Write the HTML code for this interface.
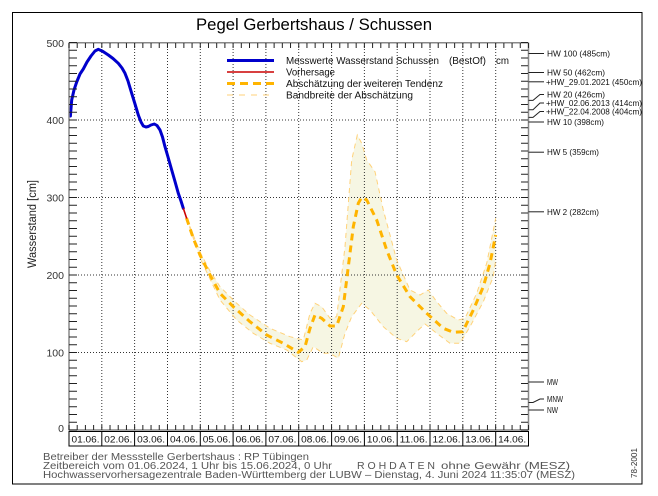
<!DOCTYPE html>
<html><head><meta charset="utf-8"><style>
html,body{margin:0;padding:0;background:#fff;}
svg{display:block;font-family:"Liberation Sans",sans-serif;}
</style></head><body>
<svg width="658" height="496" viewBox="0 0 658 496" xmlns="http://www.w3.org/2000/svg">
<rect x="0" y="0" width="658" height="496" fill="#fff"/>
<!-- outer frame -->
<rect x="12.5" y="12.5" width="629.5" height="471.5" fill="none" stroke="#000" stroke-width="1"/>
<!-- title -->
<text x="196" y="30" font-size="17" fill="#000" textLength="236" lengthAdjust="spacingAndGlyphs">Pegel Gerbertshaus / Schussen</text>

<!-- band fill -->
<polygon fill="#f6f6e3" stroke="none" points="186.5,218 200,252 210,271 220,286.7 236.7,303.3 250,315 270,328.3 290,336.7 303.3,340 310,313.3 315,303.3 321.7,306.7 330,318.3 336.7,316.7 345,246.7 351.7,160 357.3,135 361.7,143.3 366.7,160 375,171.7 383.3,210 396.7,260 410,290 420,295 428.3,290 436.7,301.7 446.7,313.3 458.3,320 465,318.3 476.7,293.3 486.7,263.3 495.7,218.3 495.7,260 493.3,276.7 483.3,301.7 470,326.7 460,343.3 450,343.3 436.7,333.3 425,324 418.3,330 406.7,341.7 396.7,338.3 383.3,326.7 370,310 361.7,303.3 351.7,316.7 345,333.3 338.3,358.3 330,353.3 323.3,353.3 313.3,346.7 306.7,360 301.7,361.7 286.7,350 270,343.3 253.3,333.3 236.7,320 220,300 210,279 200,258 186.5,218"/>

<!-- gridlines -->
<g stroke="#333" stroke-width="1" stroke-dasharray="1 2" fill="none">
<line x1="69" y1="352.5" x2="528" y2="352.5"/>
<line x1="69" y1="275" x2="528" y2="275"/>
<line x1="69" y1="197.5" x2="528" y2="197.5"/>
<line x1="69" y1="120" x2="528" y2="120"/>
<line x1="101.8" y1="43" x2="101.8" y2="430"/>
<line x1="134.6" y1="43" x2="134.6" y2="430"/>
<line x1="167.5" y1="43" x2="167.5" y2="430"/>
<line x1="200.3" y1="43" x2="200.3" y2="430"/>
<line x1="233.1" y1="43" x2="233.1" y2="430"/>
<line x1="265.9" y1="43" x2="265.9" y2="430"/>
<line x1="298.7" y1="43" x2="298.7" y2="430"/>
<line x1="331.6" y1="43" x2="331.6" y2="430"/>
<line x1="364.4" y1="43" x2="364.4" y2="430"/>
<line x1="397.2" y1="43" x2="397.2" y2="430"/>
<line x1="430" y1="43" x2="430" y2="430"/>
<line x1="462.8" y1="43" x2="462.8" y2="430"/>
<line x1="495.7" y1="43" x2="495.7" y2="430"/>
</g>

<!-- band borders -->
<g fill="none" stroke="#ffd27a" stroke-width="1" stroke-dasharray="5 4">
<polyline points="186.5,218 200,252 210,271 220,286.7 236.7,303.3 250,315 270,328.3 290,336.7 303.3,340 310,313.3 315,303.3 321.7,306.7 330,318.3 336.7,316.7 345,246.7 351.7,160 357.3,135 361.7,143.3 366.7,160 375,171.7 383.3,210 396.7,260 410,290 420,295 428.3,290 436.7,301.7 446.7,313.3 458.3,320 465,318.3 476.7,293.3 486.7,263.3 495.7,218.3"/>
<polyline points="186.5,218 200,258 210,279 220,300 236.7,320 253.3,333.3 270,343.3 286.7,350 301.7,361.7 306.7,360 313.3,346.7 323.3,353.3 330,353.3 338.3,358.3 345,333.3 351.7,316.7 361.7,303.3 370,310 383.3,326.7 396.7,338.3 406.7,341.7 418.3,330 425,324 436.7,333.3 450,343.3 460,343.3 470,326.7 483.3,301.7 493.3,276.7 495.7,260"/>
</g>

<!-- main estimate dashed -->
<polyline fill="none" stroke="#ffb400" stroke-width="3" stroke-dasharray="7 5" stroke-linejoin="round" points="186.5,218 193.3,238.3 200,255 210,275 220,293.3 233.3,306.7 250,321.7 266.7,335 283.3,343.3 298.3,352.3 305,346.7 310,328.3 315,315 321.7,318.3 330,326 336.7,326 343.3,306.7 348.3,266.7 353.3,226.7 358.3,203.3 361.7,197.3 366.7,200 376.7,220 386.7,250 396.7,275 410,296.7 426.7,313.3 443.3,328.3 453.3,332.3 462.7,331.7 473.3,310 483.3,286.7 490,263.3 495.7,235"/>

<!-- measured -->
<polyline fill="none" stroke="#0000cc" stroke-width="3" stroke-linejoin="round" stroke-linecap="round" points="70.4,116 71.7,100 74,90 76.7,82 80,74 83.3,69 87,62 91,56 95,51 98.3,49.3 103,51.5 108.3,55 113,58.5 118.3,63.3 122,68 125,73.3 128,81 131.7,93.3 135,104 138.3,115 141,122 143.3,126 146,127 148.3,126.5 151,125 154.3,124 157,125.5 160,130 162.5,137 165,146.7 168,157 171.7,170 175,181.5 178.3,193.3 181,201 183.3,208.3"/>
<line x1="183.3" y1="208.3" x2="186.7" y2="218.5" stroke="#cc0000" stroke-width="1.6"/>

<!-- axes -->
<g stroke="#888" stroke-width="1.5" fill="none">
<line x1="69" y1="42.5" x2="69" y2="430.5"/>
<line x1="528.5" y1="42.5" x2="528.5" y2="430.5"/>
<line x1="69" y1="42.8" x2="528.5" y2="42.8"/>
<line x1="69" y1="430" x2="528.5" y2="430"/>
</g>
<!-- ticks -->
<g fill="none" stroke="#222">
<line x1="73" y1="430.5" x2="73" y2="42" stroke-width="8" stroke-dasharray="1 6.75"/>
<line x1="524.5" y1="430.5" x2="524.5" y2="42" stroke-width="7" stroke-dasharray="1 6.75"/>
<line x1="68.5" y1="45.5" x2="529" y2="45.5" stroke-width="5" stroke-dasharray="1 7.205"/>
<line x1="68.5" y1="427.5" x2="529" y2="427.5" stroke-width="5" stroke-dasharray="1 7.205"/>
</g>

<!-- y tick labels -->
<g font-size="10.5" fill="#333" text-anchor="end">
<text x="64" y="47">500</text>
<text x="64" y="124">400</text>
<text x="64" y="201.5">300</text>
<text x="64" y="279">200</text>
<text x="64" y="356.5">100</text>
<text x="64" y="432">0</text>
</g>
<text transform="translate(36,224) rotate(-90)" font-size="11.5" fill="#222" text-anchor="middle" textLength="88" lengthAdjust="spacingAndGlyphs">Wasserstand [cm]</text>

<!-- day box -->
<g fill="none" stroke="#000" stroke-width="1">
<rect x="69" y="431.5" width="459.5" height="14.5"/>
<line x1="101.8" y1="431.5" x2="101.8" y2="446"/>
<line x1="134.6" y1="431.5" x2="134.6" y2="446"/>
<line x1="167.5" y1="431.5" x2="167.5" y2="446"/>
<line x1="200.3" y1="431.5" x2="200.3" y2="446"/>
<line x1="233.1" y1="431.5" x2="233.1" y2="446"/>
<line x1="265.9" y1="431.5" x2="265.9" y2="446"/>
<line x1="298.7" y1="431.5" x2="298.7" y2="446"/>
<line x1="331.6" y1="431.5" x2="331.6" y2="446"/>
<line x1="364.4" y1="431.5" x2="364.4" y2="446"/>
<line x1="397.2" y1="431.5" x2="397.2" y2="446"/>
<line x1="430" y1="431.5" x2="430" y2="446"/>
<line x1="462.8" y1="431.5" x2="462.8" y2="446"/>
<line x1="495.7" y1="431.5" x2="495.7" y2="446"/>
</g>
<g font-size="9.5" fill="#111">
<text x="71.5" y="442.5" textLength="28" lengthAdjust="spacingAndGlyphs">01.06.</text>
<text x="104.3" y="442.5" textLength="28" lengthAdjust="spacingAndGlyphs">02.06.</text>
<text x="137.1" y="442.5" textLength="28" lengthAdjust="spacingAndGlyphs">03.06.</text>
<text x="170" y="442.5" textLength="28" lengthAdjust="spacingAndGlyphs">04.06.</text>
<text x="202.8" y="442.5" textLength="28" lengthAdjust="spacingAndGlyphs">05.06.</text>
<text x="235.6" y="442.5" textLength="28" lengthAdjust="spacingAndGlyphs">06.06.</text>
<text x="268.4" y="442.5" textLength="28" lengthAdjust="spacingAndGlyphs">07.06.</text>
<text x="301.2" y="442.5" textLength="28" lengthAdjust="spacingAndGlyphs">08.06.</text>
<text x="334.1" y="442.5" textLength="28" lengthAdjust="spacingAndGlyphs">09.06.</text>
<text x="366.9" y="442.5" textLength="28" lengthAdjust="spacingAndGlyphs">10.06.</text>
<text x="399.7" y="442.5" textLength="28" lengthAdjust="spacingAndGlyphs">11.06.</text>
<text x="432.5" y="442.5" textLength="28" lengthAdjust="spacingAndGlyphs">12.06.</text>
<text x="465.3" y="442.5" textLength="28" lengthAdjust="spacingAndGlyphs">13.06.</text>
<text x="498.2" y="442.5" textLength="28" lengthAdjust="spacingAndGlyphs">14.06.</text>
</g>

<!-- legend -->
<line x1="227" y1="60.5" x2="274" y2="60.5" stroke="#0000cc" stroke-width="3"/>
<line x1="227" y1="72" x2="274" y2="72" stroke="#cc0000" stroke-width="1.5"/>
<line x1="227" y1="83.5" x2="274" y2="83.5" stroke="#ffb400" stroke-width="3" stroke-dasharray="8 5"/>
<line x1="227" y1="95" x2="274" y2="95" stroke="#ffd27a" stroke-width="1" stroke-dasharray="6 6"/>
<g font-size="10" fill="#111">
<text x="286" y="64" textLength="153" lengthAdjust="spacingAndGlyphs">Messwerte Wasserstand Schussen</text>
<text x="449" y="64" textLength="37" lengthAdjust="spacingAndGlyphs">(BestOf)</text>
<text x="496" y="64" textLength="13" lengthAdjust="spacingAndGlyphs">cm</text>
<text x="286" y="75.5" textLength="49" lengthAdjust="spacingAndGlyphs">Vorhersage</text>
<text x="286" y="87" textLength="157" lengthAdjust="spacingAndGlyphs">Abschätzung der weiteren Tendenz</text>
<text x="286" y="98.5" textLength="127" lengthAdjust="spacingAndGlyphs">Bandbreite der Abschätzung</text>
</g>

<!-- right HW markers -->
<g fill="none" stroke="#222" stroke-width="1">
<line x1="528.5" y1="53.5" x2="544" y2="53.5"/>
<line x1="528.5" y1="72.5" x2="544" y2="72.5"/>
<line x1="528.5" y1="81.8" x2="544" y2="81.8"/>
<polyline points="528.5,100.4 533,100.4 540,94.5 544,94.5"/>
<polyline points="528.5,109.7 533,109.7 540,103 544,103"/>
<polyline points="528.5,117.4 533,117.4 540,111.5 544,111.5"/>
<line x1="528.5" y1="122" x2="544" y2="122"/>
<line x1="528.5" y1="152.2" x2="544" y2="152.2"/>
<line x1="528.5" y1="211.8" x2="544" y2="211.8"/>
<line x1="528.5" y1="382" x2="544" y2="382"/>
<polyline points="528.5,402.5 533,402.5 540,399 544,399"/>
<line x1="528.5" y1="410" x2="544" y2="410"/>
</g>
<g font-size="8.5" fill="#111">
<text x="547" y="56.5" textLength="63" lengthAdjust="spacingAndGlyphs">HW 100 (485cm)</text>
<text x="547" y="75.5" textLength="58" lengthAdjust="spacingAndGlyphs">HW 50 (462cm)</text>
<text x="546" y="84.8" textLength="96" lengthAdjust="spacingAndGlyphs">+HW_29.01.2021 (450cm)</text>
<text x="547" y="97.5" textLength="58" lengthAdjust="spacingAndGlyphs">HW 20 (426cm)</text>
<text x="546" y="106" textLength="96" lengthAdjust="spacingAndGlyphs">+HW_02.06.2013 (414cm)</text>
<text x="546" y="114.5" textLength="96" lengthAdjust="spacingAndGlyphs">+HW_22.04.2008 (404cm)</text>
<text x="547" y="125" textLength="57" lengthAdjust="spacingAndGlyphs">HW 10 (398cm)</text>
<text x="547" y="155.2" textLength="52" lengthAdjust="spacingAndGlyphs">HW 5 (359cm)</text>
<text x="547" y="214.8" textLength="52" lengthAdjust="spacingAndGlyphs">HW 2 (282cm)</text>
<text x="547" y="385" textLength="11" lengthAdjust="spacingAndGlyphs">MW</text>
<text x="547" y="402" textLength="16" lengthAdjust="spacingAndGlyphs">MNW</text>
<text x="547" y="413" textLength="11" lengthAdjust="spacingAndGlyphs">NW</text>
</g>
<!-- cover overflow right of frame -->
<rect x="642.5" y="0" width="16" height="496" fill="#fff"/>
<line x1="642" y1="12" x2="642" y2="484.5" stroke="#000" stroke-width="1"/>

<!-- footer -->
<g font-size="10" fill="#555">
<text x="43" y="460" textLength="266" lengthAdjust="spacingAndGlyphs">Betreiber der Messstelle Gerbertshaus : RP Tübingen</text>
<text x="43" y="469" textLength="289" lengthAdjust="spacingAndGlyphs">Zeitbereich vom 01.06.2024, 1 Uhr bis 15.06.2024, 0 Uhr</text>
<text x="357" y="469" textLength="78" lengthAdjust="spacingAndGlyphs">R O H D A T E N</text>
<text x="441" y="469" textLength="129" lengthAdjust="spacingAndGlyphs">ohne Gewähr (MESZ)</text>
<text x="43" y="478" textLength="532" lengthAdjust="spacingAndGlyphs">Hochwasservorhersagezentrale Baden-Württemberg der LUBW – Dienstag, 4. Juni 2024 11:35:07 (MESZ)</text>
</g>
<text transform="translate(637,463) rotate(-90)" font-size="8" fill="#333" text-anchor="middle" textLength="30" lengthAdjust="spacingAndGlyphs">78-2001</text>
</svg>
</body></html>
